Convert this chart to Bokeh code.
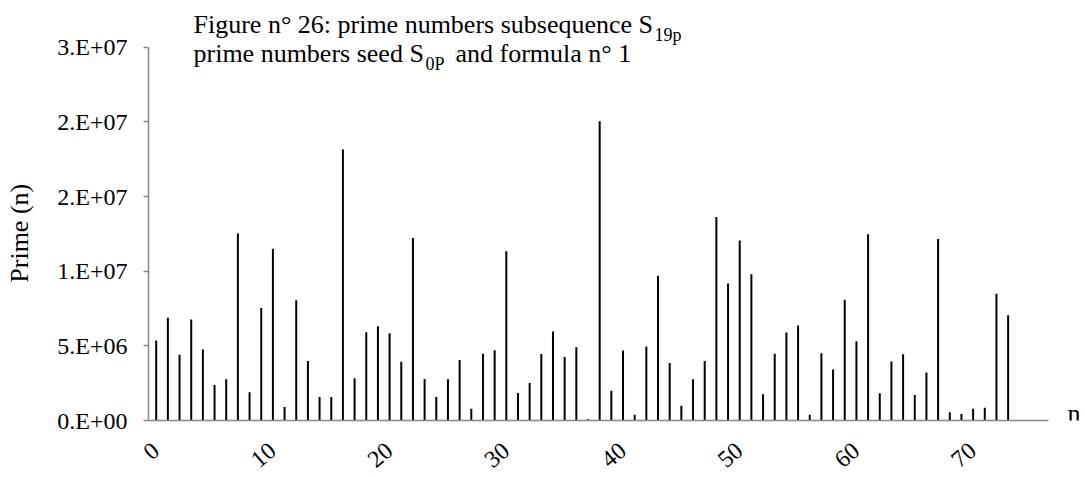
from bokeh.plotting import figure
from bokeh.models import Range1d, FixedTicker, Label
from bokeh.embed import file_html
from bokeh.resources import INLINE

# ---- data ----
n_values = list(range(74))
prime_values = [
    5.36e6, 6.89e6, 4.40e6, 6.76e6, 4.76e6, 2.38e6, 2.76e6, 12.53e6, 1.89e6, 7.53e6,
    11.51e6, 0.91e6, 8.05e6, 3.98e6, 1.58e6, 1.58e6, 18.16e6, 2.83e6, 5.91e6, 6.31e6,
    5.85e6, 3.93e6, 12.23e6, 2.78e6, 1.58e6, 2.76e6, 4.05e6, 0.78e6, 4.47e6, 4.71e6,
    11.33e6, 1.85e6, 2.51e6, 4.45e6, 5.96e6, 4.25e6, 4.91e6, 0.09e6, 20.05e6, 2.00e6,
    4.69e6, 0.38e6, 4.96e6, 9.69e6, 3.85e6, 0.98e6, 2.76e6, 3.98e6, 13.63e6, 9.18e6,
    12.05e6, 9.80e6, 1.76e6, 4.47e6, 5.89e6, 6.36e6, 0.38e6, 4.51e6, 3.42e6, 8.09e6,
    5.31e6, 12.47e6, 1.83e6, 3.96e6, 4.43e6, 1.71e6, 3.22e6, 12.16e6, 0.56e6, 0.43e6,
    0.78e6, 0.85e6, 8.49e6, 7.05e6,
]
y_tick_values = [0, 5000000, 10000000, 15000000, 20000000, 25000000]
y_tick_labels = ["0.E+00", "5.E+06", "1.E+07", "2.E+07", "2.E+07", "3.E+07"]
x_tick_values = [0, 10, 20, 30, 40, 50, 60, 70]

title_line1 = "Figure n° 26: prime numbers subsequence S"
title_line1_sub = "19p"
title_line2 = "prime numbers seed S"
title_line2_sub = "0P"
title_line2_rest = "and formula n° 1"
y_title = "Prime (n)"
x_title = "n"

FONT = "Liberation Serif"
GREY = "#868686"

W, H = 1085, 477
p = figure(
    width=W, height=H,
    x_range=Range1d(-0.66, 79.63),
    y_range=Range1d(0, 28.133e6),
    output_backend="svg", toolbar_location=None,
    min_border_left=148, min_border_right=0, min_border_top=0, min_border_bottom=55,
)
p.outline_line_color = None
p.xgrid.grid_line_color = None
p.ygrid.grid_line_color = None
p.background_fill_color = "white"
p.border_fill_color = "white"

p.segment(x0=n_values, y0=0, x1=n_values, y1=prime_values,
          line_color="black", line_width=2)

# y axis
ya = p.yaxis[0]
ya.ticker = FixedTicker(ticks=y_tick_values)
ya.major_label_overrides = dict(zip(y_tick_values, y_tick_labels))
ya.bounds = (0, 25e6)
ya.axis_line_color = GREY
ya.axis_line_width = 1.5
ya.major_tick_line_color = GREY
ya.major_tick_line_width = 1.5
ya.major_tick_out = 5
ya.major_tick_in = 0
ya.minor_tick_line_color = None
ya.major_label_text_font = FONT
ya.major_label_text_font_size = "24px"
ya.major_label_text_color = "black"
ya.major_label_standoff = 16
# axis title: padded with no-break spaces so its visible part is centred on the axis line
ya.axis_label = y_title + "\u00a0" * 7
ya.axis_label_text_font = FONT
ya.axis_label_text_font_size = "26px"
ya.axis_label_text_font_style = "normal"
ya.axis_label_text_color = "black"
ya.axis_label_standoff = 20

# x axis
xa = p.xaxis[0]
xa.ticker = FixedTicker(ticks=x_tick_values)
xa.bounds = (-0.66, 76.46)
xa.axis_line_color = GREY
xa.axis_line_width = 1.5
xa.major_tick_line_color = None
xa.major_tick_out = 0
xa.major_tick_in = 0
xa.minor_tick_line_color = None
xa.major_label_orientation = 0.7
xa.major_label_text_font = FONT
xa.major_label_text_font_size = "24px"
xa.major_label_text_color = "black"
xa.major_label_standoff = 27


def lab(text, x, y, size):
    p.add_layout(Label(text=text, x=x, y=y, x_units="screen", y_units="screen",
                       text_font=FONT, text_font_size=size, text_color="black",
                       text_baseline="middle", text_align="left"))


lab(title_line1, 45, 395.8, "26px")
lab(title_line1_sub, 506, 385.1, "18px")
lab(title_line2, 45, 367.3, "26px")
lab(title_line2_sub, 277, 356.4, "18px")
lab(title_line2_rest, 307, 367.3, "26px")
lab(x_title, 919, 6.8, "26px")

open("out.html", "w").write(file_html(p, INLINE))
